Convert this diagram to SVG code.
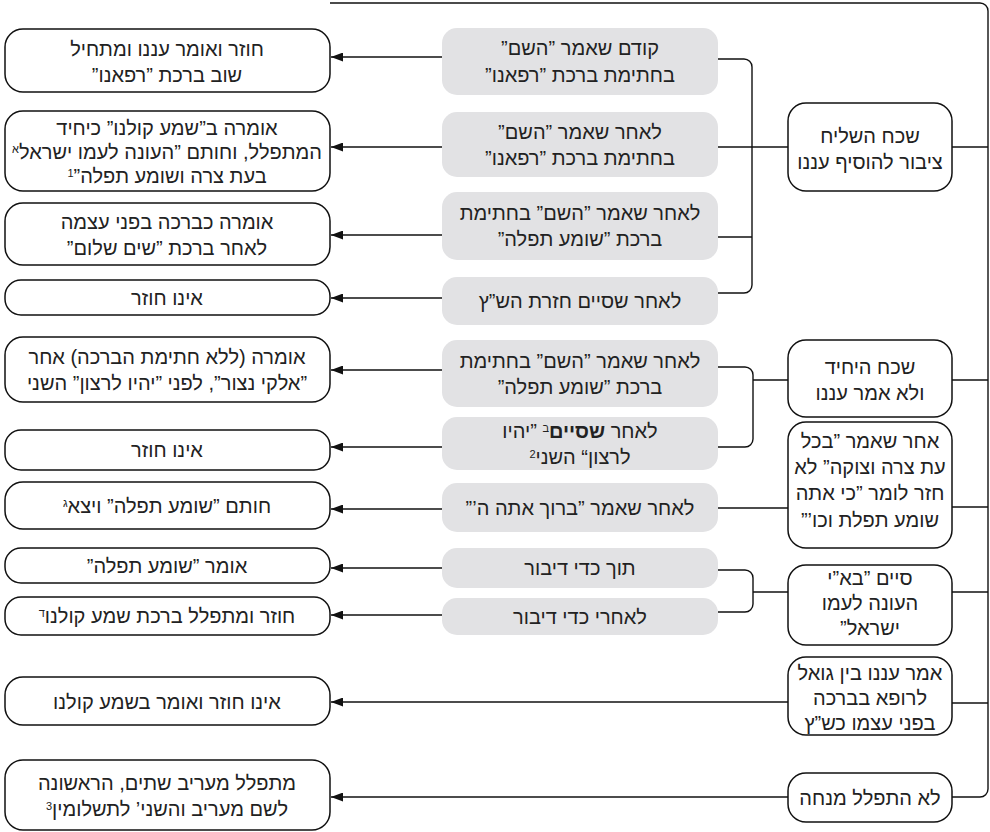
<svg xmlns="http://www.w3.org/2000/svg" width="990" height="832" viewBox="0 0 990 832">
<defs>
<marker id="ah" viewBox="0 0 12 9" refX="12" refY="4.5" markerWidth="12" markerHeight="9" markerUnits="userSpaceOnUse" orient="auto">
<path d="M0,0 L12,4.5 L0,9 Z" fill="#111"/>
</marker>
<style>
.out{fill:#fff;stroke:#111;stroke-width:1.5}
.mid{fill:#e2e2e4;stroke:none}
.t{font-family:"Liberation Sans","DejaVu Sans",sans-serif;font-size:20px;fill:#222;text-anchor:middle;direction:rtl}
.sup{font-size:11px}
.ln{fill:none;stroke:#111;stroke-width:1.4}
.arr{fill:none;stroke:#111;stroke-width:1.4;marker-end:url(#ah)}
</style>
</defs>
<rect width="990" height="832" fill="#fff"/>

<g id="connectors">
<path class="ln" d="M330,3 H980 A8,8 0 0 1 988,11 V789 A8,8 0 0 1 980,797 H952"/>
<path class="ln" d="M718,59 H744 A8,8 0 0 1 752,67 V285 A8,8 0 0 1 744,293 H718"/>
<path class="ln" d="M718,147 H788"/>
<path class="ln" d="M718,237 H752"/>
<path class="ln" d="M952,147 H988"/>
<path class="ln" d="M718,367 H745 A8,8 0 0 1 753,375 V439 A8,8 0 0 1 745,447 H718"/>
<path class="ln" d="M753,380 H788"/>
<path class="ln" d="M952,380 H988"/>
<path class="ln" d="M718,508 H788"/>
<path class="ln" d="M952,507 H988"/>
<path class="ln" d="M718,570 H745 A8,8 0 0 1 753,578 V604 A8,8 0 0 1 745,612 H718"/>
<path class="ln" d="M753,592 H789"/>
<path class="ln" d="M952,592 H988"/>
<path class="ln" d="M952,703 H988"/>
<path class="arr" d="M442,57 H331"/>
<path class="arr" d="M442,147 H331"/>
<path class="arr" d="M442,235 H331"/>
<path class="arr" d="M442,298 H331"/>
<path class="arr" d="M442,370 H331"/>
<path class="arr" d="M442,447 H331"/>
<path class="arr" d="M442,509 H331"/>
<path class="arr" d="M442,568 H331"/>
<path class="arr" d="M442,615 H331"/>
<path class="arr" d="M788,702 H331"/>
<path class="arr" d="M788,797 H331"/>
</g>

<g id="b1"><rect class="out" x="5" y="29" width="325" height="63" rx="18"/>
<text class="t" x="167" y="56">חוזר ואומר עננו ומתחיל</text>
<text class="t" x="167" y="82">שוב ברכת ”רפאנו”</text></g>
<g id="b2"><rect class="out" x="5" y="111" width="325" height="80" rx="18"/>
<text class="t" x="167" y="135">אומרה ב”שמע קולנו” כיחיד</text>
<text class="t" x="167" y="159" font-size="19">המתפלל, וחותם ”העונה לעמו ישראל<tspan class="sup" baseline-shift="super">א</tspan></text>
<text class="t" x="167" y="183">בעת צרה ושומע תפלה”<tspan class="sup" baseline-shift="super">1</tspan></text></g>
<g id="b3"><rect class="out" x="5" y="203" width="325" height="62" rx="18"/>
<text class="t" x="167" y="229">אומרה כברכה בפני עצמה</text>
<text class="t" x="167" y="255">לאחר ברכת ”שים שלום”</text></g>
<g id="b4"><rect class="out" x="5" y="280" width="325" height="35" rx="16"/>
<text class="t" x="167" y="305">אינו חוזר</text></g>
<g id="b5"><rect class="out" x="5" y="337" width="325" height="65" rx="18"/>
<text class="t" x="167" y="364">אומרה (ללא חתימת הברכה) אחר</text>
<text class="t" x="167" y="390" font-size="19.5">”אלקי נצור”, לפני ”יהיו לרצון” השני</text></g>
<g id="b6"><rect class="out" x="5" y="430" width="325" height="40" rx="16"/>
<text class="t" x="167" y="457">אינו חוזר</text></g>
<g id="b7"><rect class="out" x="5" y="482" width="325" height="47" rx="18"/>
<text class="t" x="167" y="513">חותם ”שומע תפלה” ויצא<tspan class="sup" baseline-shift="super">ג</tspan></text></g>
<g id="b8"><rect class="out" x="5" y="548" width="325" height="35" rx="16"/>
<text class="t" x="167" y="573">אומר ”שומע תפלה”</text></g>
<g id="b9"><rect class="out" x="5" y="597" width="325" height="38" rx="16"/>
<text class="t" x="167" y="623">חוזר ומתפלל ברכת שמע קולנו<tspan class="sup" baseline-shift="super">ד</tspan></text></g>
<g id="b10"><rect class="out" x="5" y="677" width="325" height="48" rx="18"/>
<text class="t" x="167" y="709">אינו חוזר ואומר בשמע קולנו</text></g>
<g id="b11"><rect class="out" x="5" y="760" width="325" height="70" rx="18"/>
<text class="t" x="167" y="790">מתפלל מעריב שתים, הראשונה</text>
<text class="t" x="167" y="816">לשם מעריב והשני’ לתשלומין<tspan class="sup" baseline-shift="super">3</tspan></text></g>

<g id="m1"><rect class="mid" x="442" y="28" width="276" height="67" rx="15"/>
<text class="t" x="580" y="55">קודם שאמר ”השם”</text>
<text class="t" x="580" y="82">בחתימת  ברכת ”רפאנו”</text></g>
<g id="m2"><rect class="mid" x="442" y="112" width="276" height="65" rx="15"/>
<text class="t" x="580" y="139">לאחר שאמר ”השם”</text>
<text class="t" x="580" y="165">בחתימת  ברכת ”רפאנו”</text></g>
<g id="m3"><rect class="mid" x="442" y="192" width="276" height="68" rx="15"/>
<text class="t" x="580" y="220">לאחר שאמר ”השם” בחתימת</text>
<text class="t" x="580" y="246">ברכת ”שומע תפלה”</text></g>
<g id="m4"><rect class="mid" x="442" y="277" width="276" height="48" rx="15"/>
<text class="t" x="580" y="308">לאחר שסיים חזרת הש”ץ</text></g>
<g id="m5"><rect class="mid" x="442" y="340" width="276" height="67" rx="15"/>
<text class="t" x="580" y="368">לאחר שאמר ”השם” בחתימת</text>
<text class="t" x="580" y="394">ברכת ”שומע תפלה”</text></g>
<g id="m6"><rect class="mid" x="442" y="417" width="276" height="53" rx="15"/>
<text class="t" x="580" y="438">לאחר <tspan font-weight="bold">שסיים</tspan><tspan class="sup" baseline-shift="super">ב</tspan> ”יהיו</text>
<text class="t" x="580" y="464">לרצון“ השני<tspan class="sup" baseline-shift="super">2</tspan></text></g>
<g id="m7"><rect class="mid" x="442" y="483" width="276" height="49" rx="15"/>
<text class="t" x="580" y="515">לאחר שאמר ”ברוך אתה ה’”</text></g>
<g id="m8"><rect class="mid" x="442" y="548" width="276" height="40" rx="15"/>
<text class="t" x="580" y="575">תוך כדי דיבור</text></g>
<g id="m9"><rect class="mid" x="442" y="598" width="276" height="37" rx="15"/>
<text class="t" x="580" y="624">לאחרי כדי דיבור</text></g>

<g id="r1"><rect class="out" x="788" y="103" width="164" height="88" rx="18"/>
<text class="t" x="870" y="143">שכח השליח</text>
<text class="t" x="870" y="169">ציבור להוסיף עננו</text></g>
<g id="r2"><rect class="out" x="788" y="340" width="164" height="77" rx="18"/>
<text class="t" x="870" y="374">שכח היחיד</text>
<text class="t" x="870" y="400">ולא אמר עננו</text></g>
<g id="r3"><rect class="out" x="788" y="422" width="164" height="126" rx="18"/>
<text class="t" x="870" y="448">אחר שאמר ”בכל</text>
<text class="t" x="870" y="474">עת צרה וצוקה” לא</text>
<text class="t" x="870" y="500">חזר לומר ”כי אתה</text>
<text class="t" x="870" y="527">שומע תפלת וכו’”</text></g>
<g id="r4"><rect class="out" x="788" y="565" width="164" height="80" rx="18"/>
<text class="t" x="870" y="585">סיים ”בא”י</text>
<text class="t" x="870" y="610">העונה לעמו</text>
<text class="t" x="870" y="635">ישראל”</text></g>
<g id="r5"><rect class="out" x="788" y="657" width="164" height="78" rx="18"/>
<text class="t" x="870" y="680">אמר עננו בין גואל</text>
<text class="t" x="870" y="705">לרופא בברכה</text>
<text class="t" x="870" y="730">בפני עצמו כש”ץ</text></g>
<g id="r6"><rect class="out" x="788" y="773" width="164" height="49" rx="18"/>
<text class="t" x="870" y="805">לא התפלל מנחה</text></g>
</svg>
